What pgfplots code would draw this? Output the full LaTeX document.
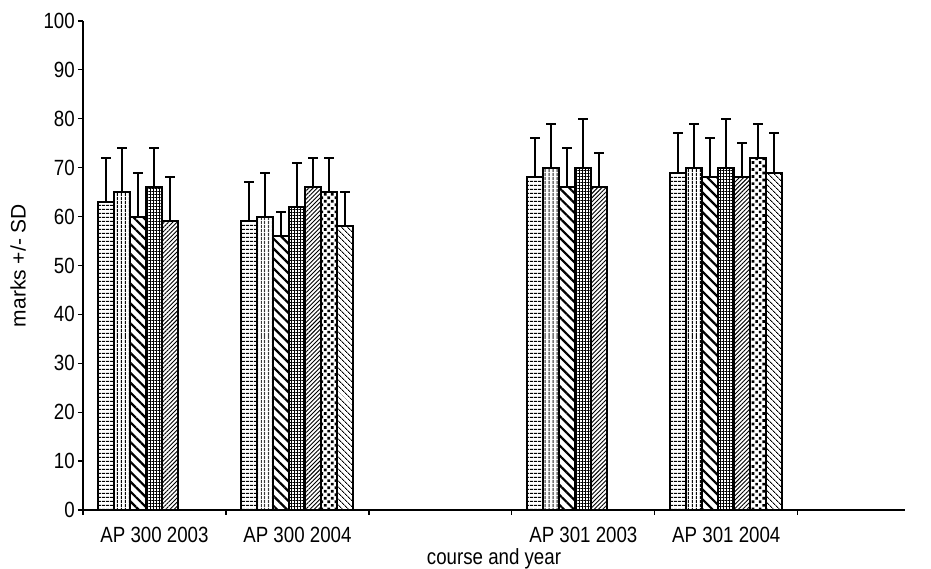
\documentclass[border=0pt]{standalone}
\usepackage{fontspec}
\setmainfont{Liberation Sans}[FakeStretch=0.85]
\newfontfamily\ylabfont{Liberation Sans}
\usepackage{pgfplots}
\pgfplotsset{compat=1.18}
\usetikzlibrary{patterns.meta}
\begin{document}
\fontsize{22}{26}\selectfont
\begin{tikzpicture}
\begin{axis}[
  scale only axis,
  width=822pt, height=489pt,
  xmin=-0.5, xmax=5.25,
  ymin=0, ymax=100,
  axis x line=bottom, axis y line=left,
  axis line style={-, line width=1.6pt, black},
  ytick={0,10,...,100},
  tick align=outside,
  major tick length=5pt,
  tick style={black, line width=1.2pt},
  xtick={-0.5,0.5,1.5,2.5,3.5,4.5},
  xticklabels={},
  extra x ticks={0,1,3,4},
  extra x tick labels={AP 300 2003,AP 300 2004,AP 301 2003,AP 301 2004},
  extra x tick style={major tick length=0pt, tick label style={yshift=-10pt}},
  /pgf/number format/assume math mode=true,
  tick label style={font=\fontsize{22}{26}\selectfont},
  yticklabel style={inner sep=1pt, xshift=-2pt},
  ylabel={marks +/- SD},
  xlabel={course and year},
  ylabel style={at={(axis description cs:-0.079,0.5)}, anchor=center, font=\ylabfont\fontsize{21}{25}\selectfont},
  xlabel style={at={(axis description cs:0.5,-0.1)}, anchor=center, font=\fontsize{22}{26}\selectfont},
  ybar,
  bar width=0.112,
  every axis plot/.append style={draw=black, line width=2pt},
  error bars/y dir=plus,
  error bars/y explicit,
  error bars/error bar style={line width=2pt, black},
  error bars/error mark options={rotate=90, mark size=5pt, line width=2pt, black},
  clip=false,
]
\coordinate (O) at (rel axis cs:0,0);
\coordinate (T) at (rel axis cs:1,1);
% series 1: horizontal lines
\addplot[bar shift=-0.336, pattern={Lines[angle=0,distance=4pt,line width=1.4pt]}, pattern color=black]
  coordinates {(0,63) +- (0,9) (1,59) +- (0,8) (3,68) +- (0,8) (4,69) +- (0,8)};
% series 2: vertical lines
\addplot[bar shift=-0.224, pattern={Lines[angle=90,distance=4pt,line width=1.3pt]}, pattern color=black]
  coordinates {(0,65) +- (0,9) (1,60) +- (0,9) (3,70) +- (0,9) (4,70) +- (0,9)};
% series 3: wide backslash
\addplot[bar shift=-0.112, pattern={Lines[angle=-45,distance=7pt,line width=2.2pt]}, pattern color=black]
  coordinates {(0,60) +- (0,9) (1,56) +- (0,5) (3,66) +- (0,8) (4,68) +- (0,8)};
% series 4: grid
\addplot[bar shift=0, pattern={Hatch[angle=0,distance=3pt,line width=0.9pt]}, pattern color=black]
  coordinates {(0,66) +- (0,8) (1,62) +- (0,9) (3,70) +- (0,10) (4,70) +- (0,10)};
% series 5: thin forward slash
\addplot[bar shift=0.112, pattern={Lines[angle=45,distance=3pt,line width=0.9pt]}, pattern color=black]
  coordinates {(0,59) +- (0,9) (1,66) +- (0,6) (3,66) +- (0,7) (4,68) +- (0,7)};
% series 6: dots
\addplot[bar shift=0.224, pattern={Dots[angle=45,distance=5pt,radius=1.9pt]}, pattern color=black]
  coordinates {(1,65) +- (0,7) (4,72) +- (0,7)};
% series 7: thin backslash
\addplot[bar shift=0.336, pattern={Lines[angle=-45,distance=4pt,line width=0.9pt]}, pattern color=black]
  coordinates {(1,58) +- (0,7) (4,69) +- (0,8)};
\end{axis}
\pgfresetboundingbox
\path ([shift={(-83pt,-59pt)}]O) rectangle ([shift={(26pt,21pt)}]T);
\end{tikzpicture}
\end{document}
